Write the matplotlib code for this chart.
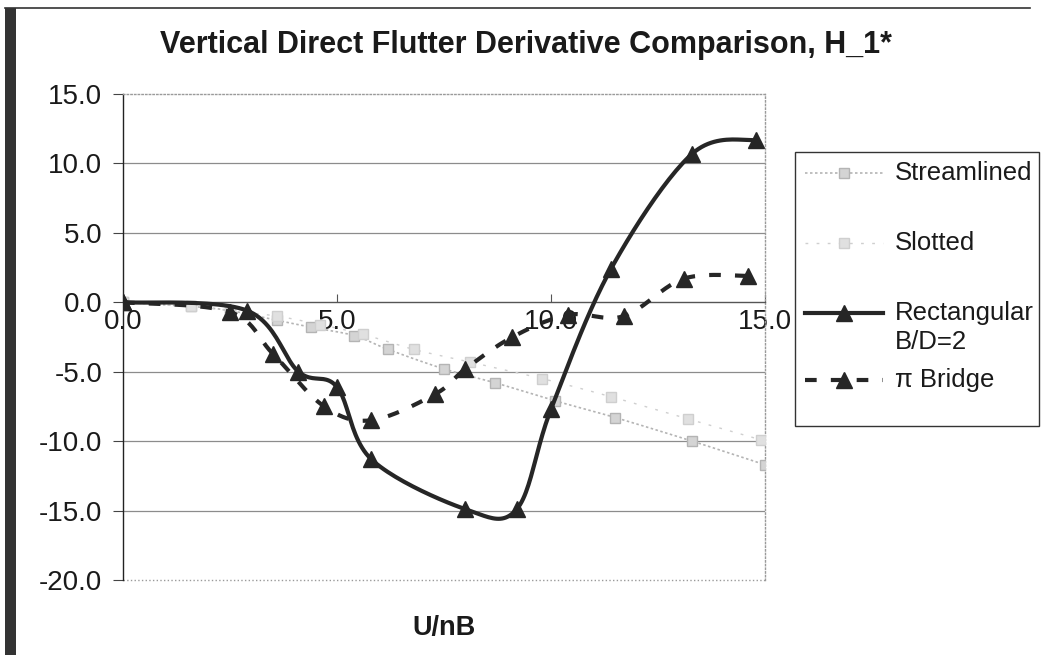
import numpy as np
import matplotlib
matplotlib.use("Agg")
import matplotlib.pyplot as plt
from matplotlib.lines import Line2D
from matplotlib.patches import Rectangle

plt.rcParams['font.family'] = ['Liberation Sans', 'DejaVu Sans']
plt.rcParams['axes.unicode_minus'] = False

# values
streamlined_x = [0.0, 1.6, 2.5, 3.6, 4.4, 5.4, 6.2, 7.5, 8.7, 10.1, 11.5, 13.3, 15.0]
streamlined_y = [0.0, -0.3, -0.6, -1.3, -1.8, -2.4, -3.4, -4.8, -5.8, -7.1, -8.3, -10.0, -11.7]

slotted_x = [0.0, 1.6, 2.5, 3.6, 4.6, 5.6, 6.8, 8.1, 9.8, 11.4, 13.2, 14.9]
slotted_y = [0.0, -0.3, -0.6, -1.0, -1.6, -2.3, -3.4, -4.3, -5.5, -6.8, -8.4, -9.9]

rect_x = [0.0, 2.9, 4.1, 5.0, 5.8, 8.0, 9.2, 10.0, 11.4, 13.3, 14.8]
rect_y = [0.0, -0.6, -5.0, -6.1, -11.3, -14.9, -14.9, -7.7, 2.4, 10.7, 11.7]

pi_x = [0.0, 2.5, 3.5, 4.7, 5.8, 7.3, 8.0, 9.1, 10.4, 11.7, 13.1, 14.6]
pi_y = [0.0, -0.7, -3.7, -7.5, -8.5, -6.6, -4.8, -2.5, -0.9, -1.0, 1.7, 1.9]

y_ticks = [-20, -15, -10, -5, 0, 5, 10, 15]
x_ticks = [0, 5, 10, 15]

title = "Vertical Direct Flutter Derivative Comparison, H_1*"
labels = ["Streamlined", "Slotted", "Rectangular", "B/D=2", "\u03c0 Bridge"]


def smooth(x, y, n=24):
    # catmull-rom curve through the points, close to Excel's smoothed line
    x = np.asarray(x, float)
    y = np.asarray(y, float)
    px = np.concatenate([[x[0]], x, [x[-1]]])
    py = np.concatenate([[y[0]], y, [y[-1]]])
    t = np.linspace(0, 1, n + 1)[1:]
    h00 = 2 * t**3 - 3 * t**2 + 1
    h10 = t**3 - 2 * t**2 + t
    h01 = -2 * t**3 + 3 * t**2
    h11 = t**3 - t**2
    ox, oy = [x[0]], [y[0]]
    for i in range(len(x) - 1):
        mx1 = (px[i + 2] - px[i]) / 2
        my1 = (py[i + 2] - py[i]) / 2
        mx2 = (px[i + 3] - px[i + 1]) / 2
        my2 = (py[i + 3] - py[i + 1]) / 2
        ox.extend(h00 * px[i + 1] + h10 * mx1 + h01 * px[i + 2] + h11 * mx2)
        oy.extend(h00 * py[i + 1] + h10 * my1 + h01 * py[i + 2] + h11 * my2)
    return np.array(ox), np.array(oy)


W, H = 1043, 655
fig = plt.figure(figsize=(W / 100, H / 100), dpi=100)


def fx(px):
    return px / W


def fy(py):
    return 1 - py / H


ax = fig.add_axes([fx(123), fy(580), fx(765) - fx(123), fy(94) - fy(580)])

# grid lines
for v in [-15, -10, -5, 5, 10]:
    ax.axhline(v, color='#8c8c8c', lw=0.9, zorder=1)
ax.axhline(-20, color='#9a9a9a', lw=1.0, ls=':', clip_on=False, zorder=1)

st_col = '#b4b4b4'
sl_col = '#cfcfcf'
dark = '#262626'

sx, sy = smooth(streamlined_x, streamlined_y)
ax.plot(sx, sy, color=st_col, lw=1.2, ls=(0, (1.5, 1.5)), zorder=2)
ax.plot(streamlined_x, streamlined_y, ls='none', marker='s', ms=7,
        mfc='#d4d4d4', mec=st_col, mew=1, zorder=3)

sx, sy = smooth(slotted_x, slotted_y)
ax.plot(sx, sy, color=sl_col, lw=1.0, ls=(0, (2, 6)), zorder=2)
ax.plot(slotted_x, slotted_y, ls='none', marker='s', ms=7,
        mfc='#e0e0e0', mec=sl_col, mew=1, zorder=3)

sx, sy = smooth(rect_x, rect_y)
ax.plot(sx, sy, color=dark, lw=3, zorder=4)
ax.plot(rect_x, rect_y, ls='none', marker='^', ms=11, color=dark, zorder=5)

sx, sy = smooth(pi_x, pi_y)
ax.plot(sx, sy, color=dark, lw=3, ls=(0, (2.8, 3.4)), zorder=4)
ax.plot(pi_x, pi_y, ls='none', marker='^', ms=11, color=dark, zorder=5)

ax.set_xlim(0, 15)
ax.set_ylim(-20, 15)
ax.set_xticks(x_ticks)
ax.set_yticks(y_ticks)
ax.set_xticklabels(["%.1f" % v for v in x_ticks])
ax.set_yticklabels(["%.1f" % v for v in y_ticks])

ax.spines['bottom'].set_position(('data', 0))
ax.spines['bottom'].set_color('#555555')
ax.spines['bottom'].set_linewidth(1.0)
ax.spines['left'].set_color('#222222')
ax.spines['left'].set_linewidth(1.0)
for s in ['top', 'right']:
    ax.spines[s].set_color('#9a9a9a')
    ax.spines[s].set_linestyle(':')
    ax.spines[s].set_linewidth(1.0)

ax.tick_params(axis='x', direction='in', length=6, pad=5, labelsize=20,
               colors='#555555', labelcolor='#1a1a1a')
ax.tick_params(axis='y', direction='out', length=7, pad=8, labelsize=20,
               colors='#444444', labelcolor='#1a1a1a')

fig.text(fx(526), fy(45), title, ha='center', va='center', fontsize=22,
         fontweight='bold', color='#1a1a1a')
fig.text(fx(444), fy(628), "U/nB", ha='center', va='center', fontsize=19.5,
         fontweight='bold', color='#1a1a1a')

# legend box
fig.add_artist(Rectangle((fx(795), fy(426)), fx(1039) - fx(795), fy(152) - fy(426),
                         transform=fig.transFigure, fill=False, ec='#333333', lw=1))
hx = [fx(805), fx(883)]
mx = [fx(844)]
rows = [173, 243, 313, 380]
styles = [
    dict(color=st_col, lw=1.2, ls=(0, (1.5, 1.5))),
    dict(color=sl_col, lw=1.0, ls=(0, (2, 6))),
    dict(color=dark, lw=3, ls='-'),
    dict(color=dark, lw=3, ls=(0, (2.8, 3.4))),
]
marks = [
    dict(marker='s', ms=7, mfc='#d4d4d4', mec=st_col),
    dict(marker='s', ms=7, mfc='#e0e0e0', mec=sl_col),
    dict(marker='^', ms=11, color=dark),
    dict(marker='^', ms=11, color=dark),
]
for r, st, mk in zip(rows, styles, marks):
    fig.add_artist(Line2D(hx, [fy(r)] * 2, transform=fig.transFigure, **st))
    fig.add_artist(Line2D(mx, [fy(r)], transform=fig.transFigure, ls='none', **mk))

for lab, r in zip(labels, [173, 243, 313, 342, 380]):
    fig.text(fx(895), fy(r), lab, va='center', fontsize=18.5, color='#1a1a1a')

# page frame: thick bar on the left and a thin rule along the top
fig.add_artist(Rectangle((fx(5), 0), fx(11), fy(8), transform=fig.transFigure,
                         color='#333333', lw=0))
fig.add_artist(Line2D([fx(5), fx(1030)], [fy(8), fy(8)], transform=fig.transFigure,
                      color='#333333', lw=1.2))

fig.savefig("out.png", dpi=100)
